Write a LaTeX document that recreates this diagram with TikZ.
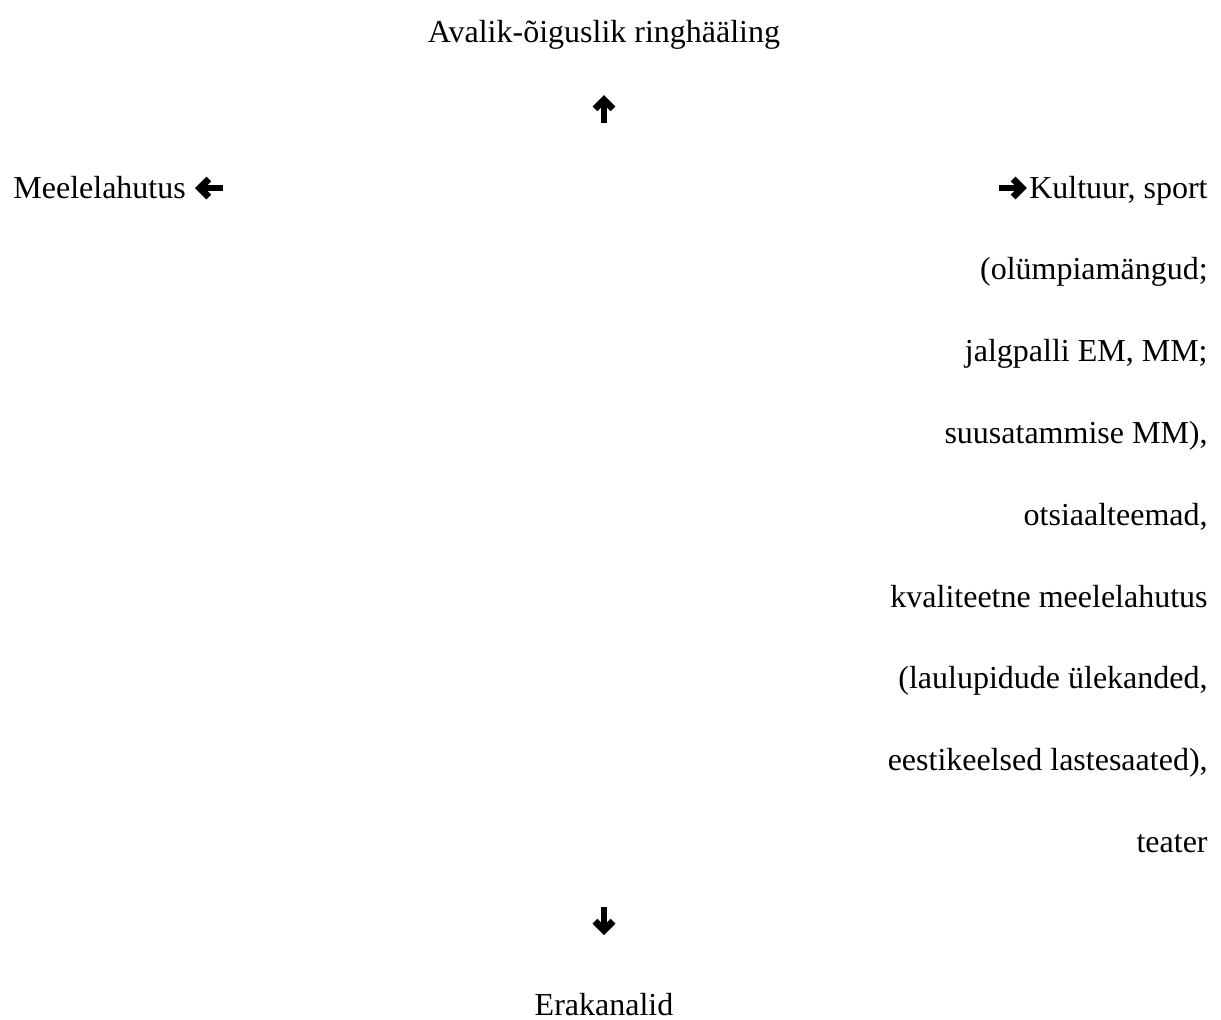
\documentclass[tikz,border=0pt]{standalone}
\usepackage{fontspec}
\setmainfont{Liberation Serif}
\usetikzlibrary{positioning}
\usetikzlibrary{arrows.meta}

\begin{document}
\begin{tikzpicture}
	[	x=0.5pt,y=-0.5pt,				% one unit = one pixel of the page
		txt/.style={inner sep=0pt,font=\fontsize{16}{19}\selectfont},	% plain text
		wd/.style={line width=3.2pt,-{Straight Barb[length=4.5pt,width=9pt,line width=3.4pt]}}	]	% heavy arrow
	\useasboundingbox (0,0) rectangle (1221,1019);
	\node[txt,anchor=base] (avalik) at (604,42) {Avalik-õiguslik ringhääling};		% top
	\node[txt,anchor=base west] (meel) at (13,198) {Meelelahutus};					% left
	\node[txt,anchor=base east] (kult) at (1208,198) {Kultuur, sport};				% right
	\foreach \t [count=\i] in {{(olümpiamängud;},{jalgpalli EM, MM;},{suusatammise MM),},
		{otsiaalteemad,},{kvaliteetne meelelahutus},{(laulupidude ülekanded,},
		{eestikeelsed lastesaated),},{teater}}
		\node[txt,anchor=base east] (r\i) at (1208,{198+81.8*\i}) {\t};
	\node[txt,anchor=base] (era) at (604,1015) {Erakanalid};						% bottom
	\coordinate (upA) at (604,123);  \coordinate (upB) at (604,95);
	\coordinate (leA) at (223,188);  \coordinate (leB) at (195,188);
	\coordinate (riA) at (999,188);  \coordinate (riB) at ([xshift=-1pt]kult.west |- riA);
	\coordinate (doA) at (604,907);  \coordinate (doB) at (604,935);
	\draw[wd] (upA) -- (upB);
	\draw[wd] (leA) -- (leB);
	\draw[wd] (riA) -- (riB);
	\draw[wd] (doA) -- (doB);
\end{tikzpicture}
\end{document}
